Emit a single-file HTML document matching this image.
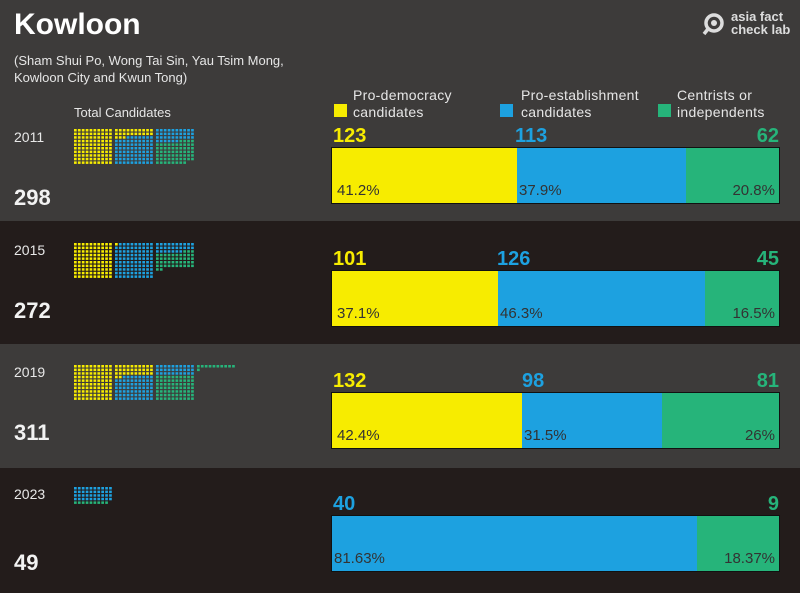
<!DOCTYPE html>
<html><head><meta charset="utf-8">
<style>
body{margin:0;width:800px;height:593px;overflow:hidden;background:#3d3b3a;font-family:"Liberation Sans",sans-serif;position:relative}
.band{position:absolute;left:0;width:800px}
.t{position:absolute;white-space:nowrap}
.yr{font-size:14px;color:#e8e8e8;left:14px}
.tot{font-size:22px;font-weight:bold;color:#f2f2f2;left:14px}
.num{font-size:20px;font-weight:bold}
.bar{position:absolute;left:332px;width:447px;height:55px;display:flex;outline:1px solid #111}
.bar div{height:100%;position:relative}
.pct{position:absolute;bottom:4px;font-size:15px;color:#333}
.y{background:#f7ec00}.b{background:#1da1e0}.g{background:#26b47a}
.leg{font-size:14px;color:#e6e6e6;line-height:17px;letter-spacing:0.3px}
.sw{position:absolute;width:13px;height:13px}
</style></head><body>
<div class="band" style="top:221px;height:123px;background:#231c1b"></div>
<div class="band" style="top:468px;height:125px;background:#231c1b"></div>

<div class="t" style="left:14px;top:8px;font-size:30px;font-weight:bold;color:#fff">Kowloon</div>
<div class="t" style="left:14px;top:52px;font-size:13px;color:#e6e6e6;line-height:17px">(Sham Shui Po, Wong Tai Sin, Yau Tsim Mong,<br>Kowloon City and Kwun Tong)</div>
<svg style="position:absolute;left:702px;top:12px" width="24" height="24"><circle cx="12" cy="11" r="8" fill="none" stroke="#ddd" stroke-width="3.5"/><circle cx="12" cy="11" r="3" fill="#ddd"/><line x1="6" y1="17" x2="2" y2="22" stroke="#ddd" stroke-width="3.5"/></svg>
<div class="t" style="left:731px;top:10px;font-size:13px;font-weight:bold;color:#ddd;line-height:13px">asia fact<br>check lab</div>

<div class="t" style="left:74px;top:105px;font-size:13px;color:#e6e6e6">Total Candidates</div>
<div class="sw y" style="left:334px;top:104px"></div>
<div class="t leg" style="left:353px;top:87px">Pro-democracy<br>candidates</div>
<div class="sw b" style="left:500px;top:104px"></div>
<div class="t leg" style="left:521px;top:87px">Pro-establishment<br>candidates</div>
<div class="sw g" style="left:658px;top:104px"></div>
<div class="t leg" style="left:677px;top:87px">Centrists or<br>independents</div>

<div class="t yr" style="top:129px">2011</div><div class="t tot" style="top:185px">298</div>
<div class="t yr" style="top:242px">2015</div><div class="t tot" style="top:298px">272</div>
<div class="t yr" style="top:364px">2019</div><div class="t tot" style="top:420px">311</div>
<div class="t yr" style="top:486px">2023</div><div class="t tot" style="top:550px">49</div>

<!-- 2011 -->
<div class="t num" style="left:333px;top:125px;color:#f7ec00">123</div>
<div class="t num" style="left:515px;top:125px;color:#1da1e0">113</div>
<div class="t num" style="right:21px;top:125px;color:#26b47a">62</div>
<div class="bar" style="top:148px"><div class="y" style="width:185px"><span class="pct" style="left:5px">41.2%</span></div><div class="b" style="width:169px"><span class="pct" style="left:2px">37.9%</span></div><div class="g" style="flex:1"><span class="pct" style="right:4px">20.8%</span></div></div>
<!-- 2015 -->
<div class="t num" style="left:333px;top:248px;color:#f7ec00">101</div>
<div class="t num" style="left:497px;top:248px;color:#1da1e0">126</div>
<div class="t num" style="right:21px;top:248px;color:#26b47a">45</div>
<div class="bar" style="top:271px"><div class="y" style="width:166px"><span class="pct" style="left:5px">37.1%</span></div><div class="b" style="width:207px"><span class="pct" style="left:2px">46.3%</span></div><div class="g" style="flex:1"><span class="pct" style="right:4px">16.5%</span></div></div>
<!-- 2019 -->
<div class="t num" style="left:333px;top:370px;color:#f7ec00">132</div>
<div class="t num" style="left:522px;top:370px;color:#1da1e0">98</div>
<div class="t num" style="right:21px;top:370px;color:#26b47a">81</div>
<div class="bar" style="top:393px"><div class="y" style="width:190px"><span class="pct" style="left:5px">42.4%</span></div><div class="b" style="width:140px"><span class="pct" style="left:2px">31.5%</span></div><div class="g" style="flex:1"><span class="pct" style="right:4px">26%</span></div></div>
<!-- 2023 -->
<div class="t num" style="left:333px;top:493px;color:#1da1e0">40</div>
<div class="t num" style="right:21px;top:493px;color:#26b47a">9</div>
<div class="bar" style="top:516px"><div class="b" style="width:365px"><span class="pct" style="left:2px">81.63%</span></div><div class="g" style="flex:1"><span class="pct" style="right:4px">18.37%</span></div></div>

<svg id="d" style="position:absolute;left:0;top:0" width="800" height="593"></svg>
<script>
var s=document.getElementById('d'),h='';
var C={y:'#f7ec00',b:'#1da1e0',g:'#26b47a'};
function grid(top,a){var list=[];a.forEach(function(p){for(var i=0;i<p[1];i++)list.push(C[p[0]]);});
for(var k=0;k<list.length;k++){var blk=Math.floor(k/100),r=Math.floor((k%100)/10),c=k%10;
var x=74+blk*41+c*3.9,y=top+r*3.6;h+='<rect x="'+x.toFixed(1)+'" y="'+y.toFixed(1)+'" width="2.7" height="2.5" fill="'+list[k]+'"/>';}}
grid(129,[['y',123],['b',113],['g',62]]);
grid(243,[['y',101],['b',126],['g',45]]);
grid(365,[['y',132],['b',98],['g',81]]);
grid(487,[['b',40],['g',9]]);
s.innerHTML=h;
</script>
</body></html>
